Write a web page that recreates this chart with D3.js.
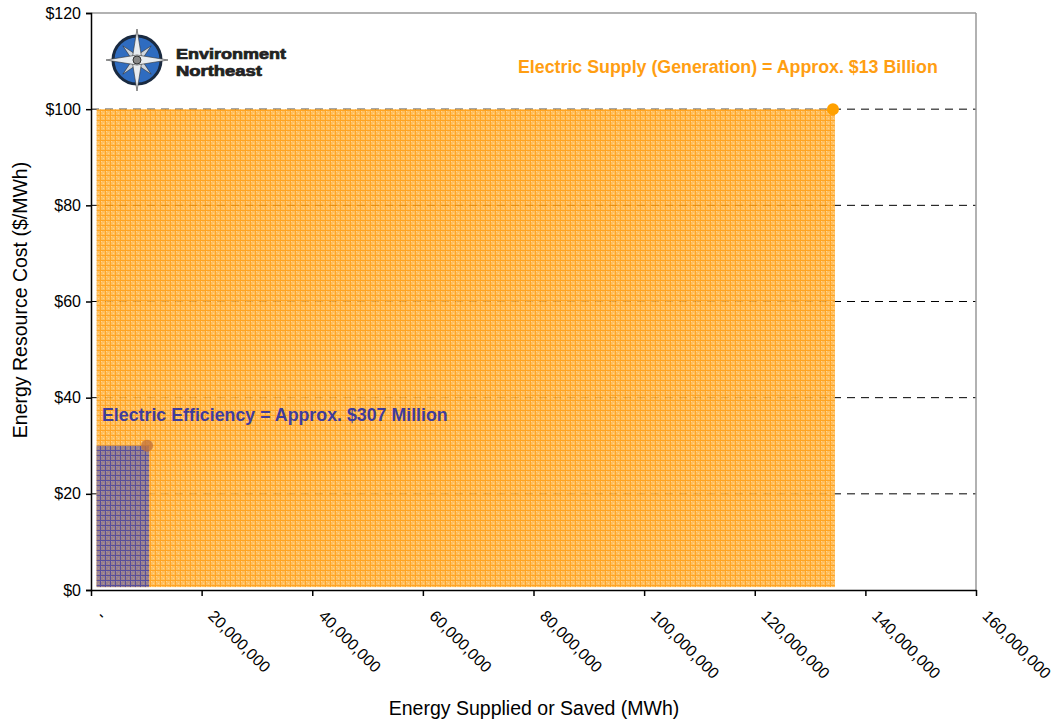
<!DOCTYPE html>
<html><head><meta charset="utf-8">
<script src="https://cdn.jsdelivr.net/npm/d3@7"></script>
<style>body{margin:0;background:#fff;}svg{display:block;font-family:Arial,"Liberation Sans",sans-serif;}</style>
</head><body>
<svg id="c" width="1056" height="723"></svg>
<script>
const yTicks = [0, 20, 40, 60, 80, 100, 120];
const xTicks = [0, 20000000, 40000000, 60000000, 80000000, 100000000, 120000000, 140000000, 160000000];
const resources = ["Electric Supply (Generation)", "Electric Efficiency"];
const resourceEnergy = [134500000, 10500000];   // MWh
const resourceCost = [100, 30];                  // $/MWh
const resourceLabels = ["Electric Supply (Generation) = Approx. $13 Billion", "Electric Efficiency = Approx. $307 Million"];
const resourceStart = [1000000, 1000000];
const logoLines = ["Environment", "Northeast"];

const svg = d3.select("#c");
const L = 91, R = 976, T = 13, B = 590;
const x = d3.scaleLinear().domain([0, 160000000]).range([L, R]);
const y = d3.scaleLinear().domain([0, 120]).range([B, T]);
const FF = "Arial, Liberation Sans, sans-serif";

// patterns
const defs = svg.append("defs");
function pat(id, base, light, line) {
  const p = defs.append("pattern").attr("id", id).attr("patternUnits", "userSpaceOnUse")
    .attr("width", 5).attr("height", 5);
  p.append("rect").attr("width", 5).attr("height", 5).attr("fill", base);
  p.append("rect").attr("x", 1).attr("y", 1).attr("width", 1).attr("height", 1).attr("fill", light);
  p.append("rect").attr("x", 3).attr("y", 3).attr("width", 1).attr("height", 1).attr("fill", light);
  p.append("rect").attr("x", 0).attr("y", 0).attr("width", 5).attr("height", 1).attr("fill", line);
  p.append("rect").attr("x", 0).attr("y", 0).attr("width", 1).attr("height", 5).attr("fill", line);
}
pat("pOrange", "#FFB84C", "#FFCF88", "#FF9A0C");
pat("pBlue", "#8E7A92", "#A08C9C", "#4646A8");

// gridlines
svg.append("g").selectAll("line").data(yTicks.filter(d => d > 0 && d < 120)).join("line")
  .attr("x1", L).attr("x2", R).attr("y1", d => y(d)).attr("y2", d => y(d))
  .attr("stroke", "#000").attr("stroke-width", 1).attr("stroke-dasharray", "8,6");

// frame top/right
svg.append("line").attr("x1", L).attr("x2", R).attr("y1", T).attr("y2", T).attr("stroke", "#999").attr("stroke-width", 1.5);
svg.append("line").attr("x1", R).attr("x2", R).attr("y1", T).attr("y2", B).attr("stroke", "#999").attr("stroke-width", 1.5);

// bars
const fills = ["url(#pOrange)", "url(#pBlue)"];
svg.append("g").selectAll("rect").data(resources).join("rect")
  .attr("x", (d, i) => x(resourceStart[i]))
  .attr("y", (d, i) => y(resourceCost[i]))
  .attr("width", (d, i) => x(resourceEnergy[i]) - x(resourceStart[i]))
  .attr("height", (d, i) => y(0.6) - y(resourceCost[i]))
  .attr("fill", (d, i) => fills[i]).attr("opacity", 0.9);

// dots
const dotCol = ["#FFA000", "#C0703A"];
svg.append("g").selectAll("circle").data(resources).join("circle")
  .attr("cx", (d, i) => x(resourceEnergy[i]) - 2)
  .attr("cy", (d, i) => y(resourceCost[i]))
  .attr("r", 6).attr("fill", (d, i) => dotCol[i]).attr("opacity", (d, i) => i ? 0.75 : 1);

// axes
const yAxis = d3.axisLeft(y).tickValues(yTicks).tickSize(5).tickFormat(d => "$" + d);
const gy = svg.append("g").attr("transform", `translate(${L},0)`).call(yAxis);
gy.attr("font-size", null).attr("font-family", null);
gy.select(".domain").attr("stroke", "#000").attr("stroke-width", 1.5);
gy.selectAll(".tick line").attr("stroke", "#000").attr("stroke-width", 1.5);
gy.selectAll("text").style("font-size", "16px").attr("fill", "#000").attr("x", -10).style("font-family", FF);

const fmt = d3.format(",");
const xAxis = d3.axisBottom(x).tickValues(xTicks).tickSize(6).tickSizeOuter(0).tickFormat(d => d === 0 ? "-" : fmt(d));
const gx = svg.append("g").attr("transform", `translate(0,${B})`).call(xAxis);
gx.attr("font-size", null).attr("font-family", null);
gx.select(".domain").attr("stroke", "#000").attr("stroke-width", 1.5);
gx.selectAll(".tick line").attr("stroke", "#000").attr("stroke-width", 1.5);
gx.selectAll("text").style("font-size", "16px").attr("fill", "#000").style("font-family", FF)
  .attr("text-anchor", "start").attr("dy", null).attr("y", 0)
  .attr("transform", "translate(5,27) rotate(45)");

// titles
svg.append("text").attr("x", 534).attr("y", 715).attr("text-anchor", "middle")
  .style("font-size", "19.5px").text("Energy Supplied or Saved (MWh)");
svg.append("text").attr("transform", "translate(27,300) rotate(-90)").attr("text-anchor", "middle")
  .style("font-size", "19.5px").text("Energy Resource Cost ($/MWh)");

// annotations
svg.append("text").attr("x", 518).attr("y", 73).style("font-size", "17.8px").attr("font-weight", "bold")
  .attr("fill", "#FF9E12").text(resourceLabels[0]);
svg.append("text").attr("x", 102).attr("y", 421).style("font-size", "17.8px").attr("font-weight", "bold")
  .attr("fill", "#3F3C9C").text(resourceLabels[1]);

// logo
const lg = svg.append("g").attr("transform", "translate(137,60)");
lg.append("circle").attr("r", 24).attr("fill", "#2F6CC0").attr("stroke", "#1a2a40").attr("stroke-width", 3);
function star(len, w, rot, col) {
  const pts = [[0, -len], [w, 0], [0, len], [-w, 0]];
  lg.append("polygon").attr("points", pts.map(p => p.join(",")).join(" "))
    .attr("fill", col).attr("stroke", "#333").attr("stroke-width", 0.6).attr("transform", `rotate(${rot})`);
}
star(20, 4, 45, "#cfd6de"); star(20, 4, -45, "#cfd6de");
star(31, 5, 0, "#e8ecf0"); star(31, 5, 90, "#e8ecf0");
lg.append("circle").attr("r", 4).attr("fill", "#888").attr("stroke", "#333");
const logoWidths = [110, 86];
svg.append("g").selectAll("text").data(logoLines).join("text")
  .attr("x", 176).attr("y", (d, i) => 59 + i * 16.5)
  .style("font-size", "14px").attr("font-weight", "bold")
  .attr("textLength", (d, i) => logoWidths[i]).attr("lengthAdjust", "spacingAndGlyphs")
  .attr("fill", "#222").attr("stroke", "#222").attr("stroke-width", 0.7).text(d => d);
</script>
</body></html>
